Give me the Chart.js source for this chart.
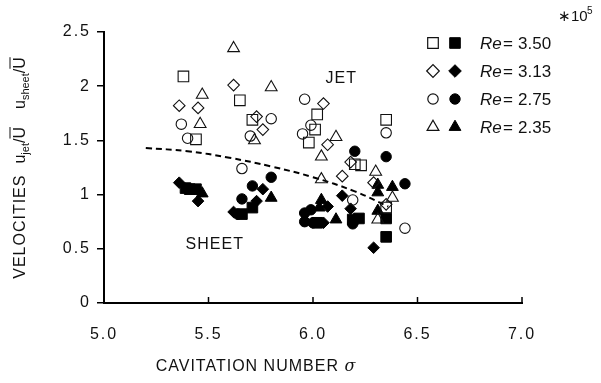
<!DOCTYPE html>
<html lang="en">
<head>
<meta charset="UTF-8">
<title>Jet and sheet velocities</title>
<script src="https://cdn.jsdelivr.net/npm/chart.js"></script>
<style>
  html, body { margin: 0; padding: 0; background: #fff; }
  #wrap { width: 601px; height: 383px; }
</style>
</head>
<body>
<div id="wrap"><canvas id="velChart" width="601" height="383"></canvas></div>
<script>
// Reynolds numbers (x 10^5) for the legend
const reLabels = ['3.50', '3.13', '2.75', '2.35'];
const pointStyles = ['rect', 'rectRot', 'circle', 'triangle'];

// jet velocity (open markers): [sigma, u_jet / U]
const jet350 = [[5.38, 2.09], [5.65, 1.87], [5.71, 1.69], [5.44, 1.51], [6.02, 1.74], [6.01, 1.60], [5.98, 1.48], [6.20, 1.28], [6.23, 1.27], [6.35, 1.69], [6.35, 0.88]];
const jet313 = [[5.36, 1.82], [5.45, 1.80], [5.62, 2.01], [5.73, 1.72], [5.76, 1.60], [6.05, 1.84], [6.07, 1.46], [6.18, 1.30], [6.14, 1.17], [6.29, 1.11], [6.35, 0.91]];
const jet275 = [[5.37, 1.65], [5.40, 1.52], [5.80, 1.70], [5.70, 1.54], [5.66, 1.24], [5.96, 1.88], [5.99, 1.64], [5.95, 1.56], [6.35, 1.57], [6.19, 0.95], [6.44, 0.69]];
const jet235 = [[5.62, 2.35], [5.80, 1.99], [5.47, 1.92], [5.46, 1.65], [5.72, 1.50], [6.11, 1.53], [6.04, 1.35], [6.04, 1.14], [6.30, 1.21], [6.38, 0.97], [6.31, 0.77]];

// sheet velocity (filled markers): [sigma, u_sheet / U]
const sheet350 = [[5.39, 1.06], [5.41, 1.05], [5.44, 1.05], [5.66, 0.82], [5.71, 0.88], [6.02, 0.74], [6.19, 0.77], [6.22, 0.78], [6.35, 0.78], [6.35, 0.61]];
const sheet313 = [[5.36, 1.11], [5.45, 0.94], [5.76, 1.05], [5.73, 0.94], [5.62, 0.84], [6.14, 0.99], [6.07, 0.89], [6.18, 0.87], [6.05, 0.74], [6.29, 0.51]];
const sheet275 = [[5.80, 1.16], [5.71, 1.08], [5.66, 0.96], [5.64, 0.82], [5.96, 0.83], [5.99, 0.86], [5.96, 0.75], [6.00, 0.74], [6.20, 1.40], [6.35, 1.35], [6.44, 1.10], [6.19, 0.73]];
const sheet235 = [[5.47, 1.01], [5.80, 0.97], [6.04, 0.95], [6.03, 0.88], [6.11, 0.77], [6.31, 1.02], [6.31, 1.09], [6.38, 1.07], [6.31, 0.85]];

// dashed trend line
const fitX = [5.20, 5.40, 5.60, 5.80, 6.00, 6.20, 6.36];
const fitY = [1.43, 1.40, 1.34, 1.26, 1.16, 1.03, 0.89];

const xTicks = [5.0, 5.5, 6.0, 6.5, 7.0];
const yTicks = [0, 0.5, 1, 1.5, 2, 2.5];

const markerRadius = { rect: 7.5, rectRot: 5.8, circle: 5.2, triangle: 6.8 };
const ink = '#111';

function toPts(arr) {
  return arr.map(p => ({ x: p[0], y: p[1] }));
}

const jetSets = [jet350, jet313, jet275, jet235];
const sheetSets = [sheet350, sheet313, sheet275, sheet235];

const datasets = [];
jetSets.forEach((d, i) => {
  datasets.push({
    label: 'jet Re=' + reLabels[i],
    data: toPts(d),
    pointStyle: pointStyles[i],
    pointRadius: markerRadius[pointStyles[i]],
    pointBackgroundColor: 'rgba(0,0,0,0)',
    pointBorderColor: ink,
    pointBorderWidth: 1.1,
    showLine: false
  });
});
sheetSets.forEach((d, i) => {
  datasets.push({
    label: 'sheet Re=' + reLabels[i],
    data: toPts(d),
    pointStyle: pointStyles[i],
    pointRadius: markerRadius[pointStyles[i]],
    pointBackgroundColor: '#000',
    pointBorderColor: '#000',
    pointBorderWidth: 1,
    showLine: false
  });
});
datasets.push({
  label: 'fit',
  data: fitX.map((x, i) => ({ x: x, y: fitY[i] })),
  showLine: true,
  borderColor: '#000',
  borderWidth: 2,
  borderDash: [6, 4],
  pointRadius: 0,
  tension: 0.4,
  fill: false
});

// x ticks point inward, drawn on the axis line
const innerTicks = {
  id: 'innerTicks',
  beforeDraw(chart) {
    chart.ctx.letterSpacing = '2px';
  },
  afterDraw(chart) {
    const ctx = chart.ctx;
    ctx.letterSpacing = '0px';
    const xs = chart.scales.x;
    const y0 = chart.chartArea.bottom;
    ctx.save();
    ctx.strokeStyle = '#000';
    ctx.lineWidth = 1.5;
    xs.ticks.forEach(t => {
      const px = xs.getPixelForValue(t.value);
      ctx.beginPath();
      ctx.moveTo(px, y0);
      ctx.lineTo(px, y0 - 6);
      ctx.stroke();
    });
    ctx.restore();
  }
};

function drawYTitle(ctx, cx, cy) {
  const big = '16px Arial, "Liberation Sans", sans-serif';
  const small = '11px Arial, "Liberation Sans", sans-serif';
  const parts = [
    { t: 'VELOCITIES', f: big, sp: 1 },
    { gap: 11 },
    { t: 'u', f: big }, { t: 'jet', f: small, dy: 4 }, { t: '/', f: big }, { t: 'U', f: big, bar: true },
    { gap: 18 },
    { t: 'u', f: big }, { t: 'sheet', f: small, dy: 4 }, { t: '/', f: big }, { t: 'U', f: big, bar: true }
  ];
  ctx.save();
  ctx.fillStyle = ink;
  ctx.strokeStyle = ink;
  let total = 0;
  parts.forEach(p => {
    if (p.gap) { p.w = p.gap; } else {
      ctx.font = p.f;
      ctx.letterSpacing = (p.sp || 0) + 'px';
      p.w = ctx.measureText(p.t).width;
    }
    total += p.w;
  });
  ctx.translate(cx, cy);
  ctx.rotate(-Math.PI / 2);
  ctx.textBaseline = 'alphabetic';
  let x = -total / 2;
  parts.forEach(p => {
    if (!p.gap) {
      ctx.font = p.f;
      ctx.letterSpacing = (p.sp || 0) + 'px';
      ctx.fillText(p.t, x, 6 + (p.dy || 0));
      if (p.bar) {
        ctx.lineWidth = 1;
        ctx.beginPath();
        ctx.moveTo(x, -9);
        ctx.lineTo(x + p.w, -9);
        ctx.stroke();
      }
    }
    x += p.w;
  });
  ctx.restore();
  ctx.letterSpacing = '0px';
}

const annotations = {
  id: 'annotations',
  afterDraw(chart) {
    const ctx = chart.ctx;
    const xs = chart.scales.x, ys = chart.scales.y;
    ctx.save();
    ctx.fillStyle = ink;
    ctx.textAlign = 'center';
    ctx.textBaseline = 'middle';
    ctx.letterSpacing = '1px';
    ctx.font = '16px Arial, "Liberation Sans", sans-serif';
    ctx.fillText('JET', xs.getPixelForValue(6.135), ys.getPixelForValue(2.07));
    ctx.fillText('SHEET', xs.getPixelForValue(5.53), ys.getPixelForValue(0.54));

    // x axis title
    ctx.textAlign = 'left';
    ctx.textBaseline = 'alphabetic';
    const t1 = 'CAVITATION NUMBER ';
    ctx.font = '16px Arial, "Liberation Sans", sans-serif';
    const w1 = ctx.measureText(t1).width;
    ctx.font = 'italic 16px "DejaVu Serif", serif';
    const w2 = ctx.measureText('σ').width;
    let sx = 256 - (w1 + w2) / 2;
    ctx.font = '16px Arial, "Liberation Sans", sans-serif';
    ctx.fillText(t1, sx, 371);
    ctx.font = 'italic 16px "DejaVu Serif", serif';
    ctx.fillText('σ', sx + w1, 371);
    ctx.letterSpacing = '0px';

    // legend
    const rowY = [43, 71, 99, 127];
    reLabels.forEach((lab, i) => {
      const st = pointStyles[i];
      const r = markerRadius[st] + (st === 'rectRot' ? 0.5 : 0);
      ctx.fillStyle = 'rgba(0,0,0,0)';
      ctx.strokeStyle = ink;
      ctx.lineWidth = 1.2;
      Chart.helpers.drawPoint(ctx, { pointStyle: st, radius: r, rotation: 0, borderWidth: 1.2 }, 433, rowY[i]);
      ctx.fillStyle = '#000';
      ctx.strokeStyle = '#000';
      ctx.lineWidth = 1;
      Chart.helpers.drawPoint(ctx, { pointStyle: st, radius: r, rotation: 0, borderWidth: 1 }, 455, rowY[i]);
      ctx.fillStyle = ink;
      ctx.textBaseline = 'middle';
      ctx.font = 'italic 17px Arial, "Liberation Sans", sans-serif';
      ctx.fillText('Re', 480, rowY[i] + 1);
      ctx.font = '17px Arial, "Liberation Sans", sans-serif';
      ctx.fillText('=', 503, rowY[i] + 1);
      ctx.fillText(lab, 518, rowY[i] + 1);
    });
    ctx.textBaseline = 'alphabetic';
    ctx.font = '15px Arial, "Liberation Sans", sans-serif';
    ctx.fillText('\u221710', 558, 21);
    ctx.font = '10px Arial, "Liberation Sans", sans-serif';
    ctx.fillText('5', 587, 14);

    ctx.restore();
    drawYTitle(ctx, 19, 168);
  }
};

new Chart(document.getElementById('velChart').getContext('2d'), {
  type: 'scatter',
  data: { datasets: datasets },
  options: {
    responsive: false,
    animation: false,
    layout: { padding: { left: 0, right: 79, top: 32, bottom: 0 } },
    plugins: {
      legend: { display: false },
      tooltip: { enabled: false }
    },
    scales: {
      x: {
        type: 'linear',
        min: 5,
        max: 7,
        afterBuildTicks(scale) { scale.ticks = xTicks.map(v => ({ value: v })); },
        afterFit(scale) { scale.height = 80; },
        grid: { display: false },
        border: { display: true, color: '#000', width: 2 },
        ticks: {
          padding: 14,
          color: ink,
          font: { family: 'Arial, "Liberation Sans", sans-serif', size: 16 },
          callback: v => v.toFixed(1)
        }
      },
      y: {
        type: 'linear',
        min: 0,
        max: 2.5,
        afterBuildTicks(scale) { scale.ticks = yTicks.map(v => ({ value: v })); },
        afterFit(scale) { scale.width = 104; },
        grid: { display: true, drawOnChartArea: false, drawTicks: true, tickLength: 7, color: '#000', lineWidth: 1.5 },
        border: { display: true, color: '#000', width: 2 },
        ticks: {
          padding: 6,
          color: ink,
          font: { family: 'Arial, "Liberation Sans", sans-serif', size: 16 },
          callback: v => String(v)
        }
      }
    }
  },
  plugins: [innerTicks, annotations]
});
</script>
</body>
</html>
